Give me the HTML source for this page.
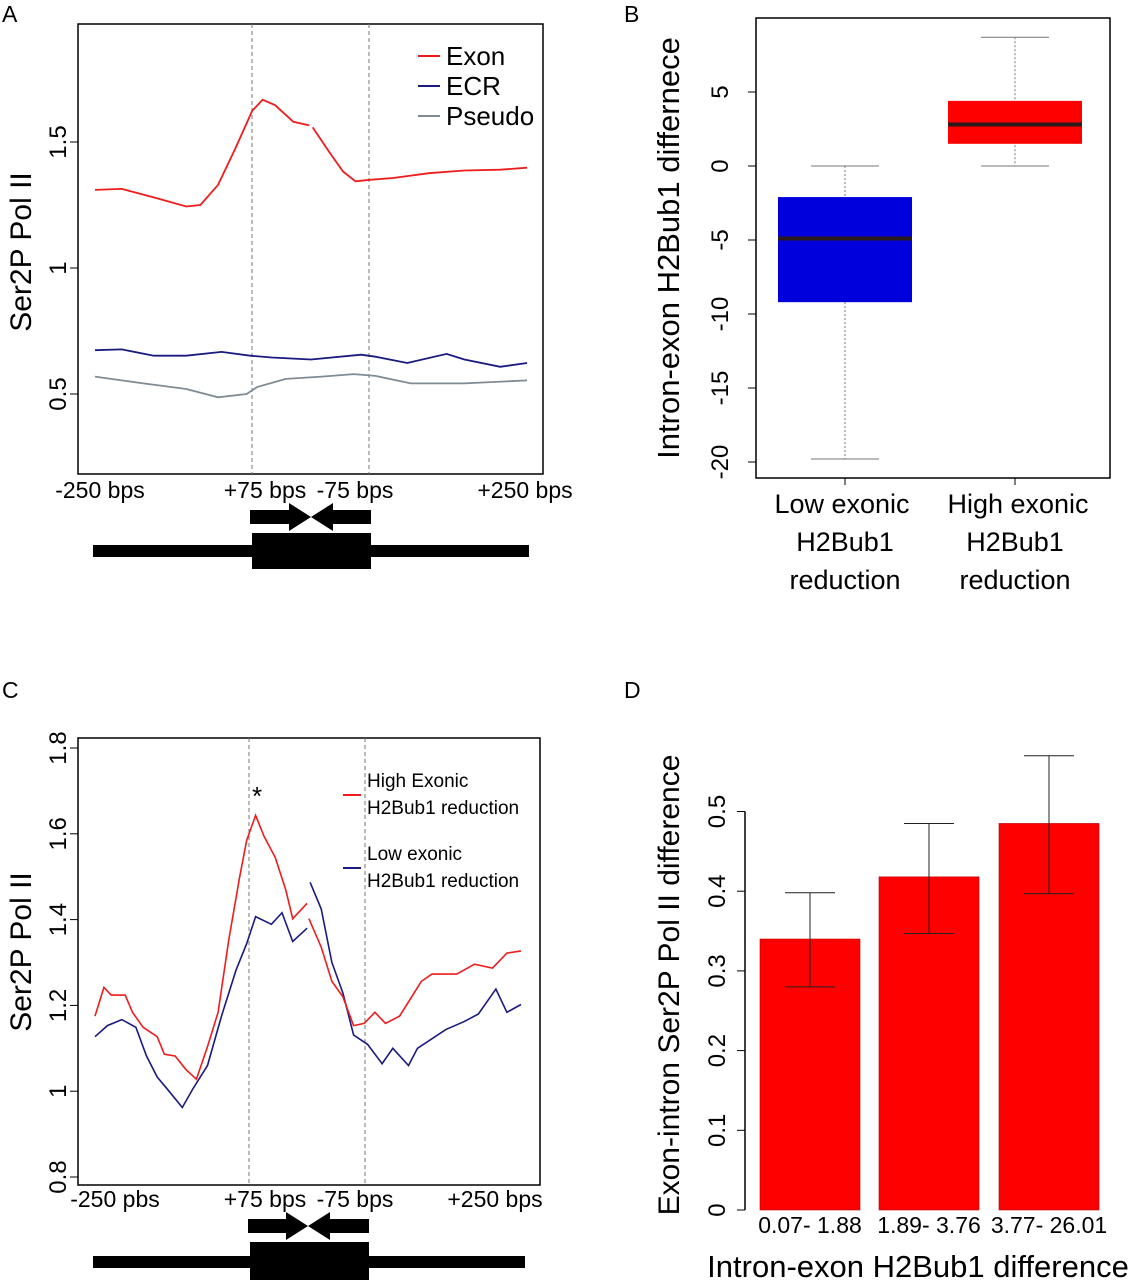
<!DOCTYPE html>
<html><head><meta charset="utf-8"><style>
html,body{margin:0;padding:0;background:#fff;}
svg{display:block;font-family:"Liberation Sans",sans-serif;}
</style></head><body>
<svg id="fig" width="1132" height="1280" viewBox="0 0 1132 1280" xmlns="http://www.w3.org/2000/svg">
<g font-size="23" fill="#000">
<text x="2" y="22">A</text>
<text x="624" y="22">B</text>
<text x="2" y="698">C</text>
<text x="624" y="698">D</text>
</g>
<g id="gA"></g>
<g id="gB"></g>
<g id="gC"></g>
<g id="gD"></g>
</svg>
<script>
// Panel A data (x = position % across window, y = Ser2P Pol II)
const aExonX = [0,6.2,13.6,21.1,24.4,28.5,32.6,36.4,38.8,41.7,45.9,49.6,null,50.4,54.1,57.4,60.3,63.6,69,77.3,85.5,93.8,100];
const aExonY = [1.31,1.314,1.28,1.244,1.25,1.33,1.478,1.624,1.668,1.646,1.58,1.566,null,1.558,1.463,1.383,1.344,1.35,1.357,1.376,1.387,1.39,1.398];
const aEcrX = [0,6.2,13.6,21.1,29.3,35.9,40.9,50,61.6,64.9,72.3,81.4,85.5,93.8,100];
const aEcrY = [0.674,0.677,0.652,0.652,0.667,0.652,0.645,0.637,0.656,0.648,0.623,0.659,0.637,0.608,0.623];
const aPseX = [0,11.2,21.1,28.5,35.1,37.6,44.2,52.5,59.9,64.9,73.1,85.5,100];
const aPseY = [0.569,0.542,0.52,0.487,0.5,0.528,0.56,0.569,0.579,0.572,0.542,0.542,0.554];
const aTicks = [0.5,1,1.5];
const aTickLabels = ["0.5","1","1.5"];
const posLabelsA = ["-250 bps","+75 bps","-75 bps","+250 bps"];
// Panel B box stats
const bCats = ["Low exonic","High exonic"];
const bMin = [-19.8,0];
const bQ1 = [-9.2,1.5];
const bMed = [-4.9,2.8];
const bQ3 = [-2.1,4.4];
const bMax = [0,8.7];
const bTicks = [-20,-15,-10,-5,0,5];
// Panel C data
const cHighX = [0,2.1,3.8,7.1,8.8,11.3,14.6,16.3,18.8,21.3,23.8,26.4,28.9,31.4,33.9,35.6,37.7,39.7,42.3,44.8,46.4,49.8,null,50.2,53.1,55.6,58.2,60.7,63.2,65.7,68.2,71.5,76.6,79.1,84.9,89.1,93.3,96.7,100];
const cHighY = [1.175,1.242,1.224,1.224,1.184,1.149,1.127,1.086,1.082,1.051,1.028,1.104,1.184,1.353,1.496,1.585,1.643,1.594,1.545,1.469,1.402,1.438,null,1.402,1.336,1.256,1.22,1.153,1.158,1.184,1.158,1.175,1.256,1.273,1.273,1.296,1.287,1.322,1.327];
const cLowX = [0,2.9,6.3,9.6,12.1,14.6,17.2,20.5,23,26.4,29.7,33.1,35.6,37.7,41.4,43.9,46.4,49.8,null,50.5,53.1,55.6,58.2,60.7,64,67.4,69.9,73.6,75.7,82.4,86.6,90,94.1,96.7,100];
const cLowY = [1.127,1.153,1.167,1.149,1.082,1.033,1.002,0.962,1.006,1.06,1.175,1.282,1.344,1.407,1.389,1.416,1.349,1.38,null,1.487,1.425,1.3,1.229,1.131,1.109,1.064,1.1,1.06,1.1,1.144,1.162,1.18,1.238,1.184,1.202];
const cTicks = [0.8,1,1.2,1.4,1.6,1.8];
const cTickLabels = ["0.8","1","1.2","1.4","1.6","1.8"];
const posLabelsC = ["-250 pbs","+75 bps","-75 bps","+250 bps"];
// Panel D bars
const dCats = ["0.07- 1.88","1.89- 3.76","3.77- 26.01"];
const dVals = [0.34,0.418,0.485];
const dLo = [0.28,0.347,0.397];
const dHi = [0.398,0.485,0.57];
const dTicks = [0,0.1,0.2,0.3,0.4,0.5];
const dTickLabels = ["0","0.1","0.2","0.3","0.4","0.5"];

const NS="http://www.w3.org/2000/svg";
function mk(parent,tag,attrs){const e=document.createElementNS(NS,tag);for(const k in attrs)e.setAttribute(k,attrs[k]);parent.appendChild(e);return e;}
function txt(parent,x,y,s,size,anchor,rot){const t=mk(parent,'text',{x:x,y:y,'font-size':size,'text-anchor':anchor||'middle'});if(rot)t.setAttribute('transform','rotate(-90 '+x+' '+y+')');t.textContent=s;return t;}
function pathFrom(xs,ys,sx,sy){let d='',pen=false;for(let i=0;i<xs.length;i++){if(xs[i]===null){pen=false;continue;}d+=(pen?'L':'M')+sx(xs[i]).toFixed(1)+' '+sy(ys[i]).toFixed(1);pen=true;}return d;}

function geneDiagram(g,arrowY,x1,x2,mid,blockTop,blockBot,lineX1,lineX2,lineY){
  const ar=mk(g,'path',{d:`M${x1} ${arrowY-7}H${mid-22}V${arrowY-14}L${mid} ${arrowY}L${mid-22} ${arrowY+14}V${arrowY+7}H${x1}Z M${x2} ${arrowY-7}H${mid+22}V${arrowY-14}L${mid} ${arrowY}L${mid+22} ${arrowY+14}V${arrowY+7}H${x2}Z`,fill:'#000'});
  
  const ln=mk(g,'rect',{x:lineX1,y:lineY-6,width:lineX2-lineX1,height:12,fill:'#000'});
  
  const bl=mk(g,'rect',{x:x1+2,y:blockTop,width:x2-x1-2,height:blockBot-blockTop,fill:'#000'});
  
}

// ---- Panel A ----
(function(){
const g=document.getElementById('gA');
const sx=p=>95+p*(527-95)/100, sy=v=>394-(v-0.5)*252;
const box=mk(g,'rect',{x:78,y:24,width:465,height:450,fill:'none',stroke:'#000','stroke-width':1.5});

[252,369].forEach(x=>{const l=mk(g,'line',{x1:x,y1:24,x2:x,y2:474,stroke:'#777','stroke-dasharray':'4 3'});});
aTicks.forEach((v,i)=>{const y=sy(v);const t=mk(g,'line',{x1:70,y1:y,x2:78,y2:y,stroke:'#000'});
 const l=txt(g,66,y,aTickLabels[i],24,'middle',true);});
const yt=txt(g,31,252,'Ser2P Pol II',30,'middle',true);
[[100,0],[265,1],[355,2],[525,3]].forEach(([x,i])=>{const l=txt(g,x,498,posLabelsA[i],23);});
const series=[[aPseX,aPseY,'#7f8c95','pseudo-line'],[aEcrX,aEcrY,'#1a1a80','ecr-line'],[aExonX,aExonY,'#ee1c1c','exon-line']];
series.forEach(s=>{const p=mk(g,'path',{d:pathFrom(s[0],s[1],sx,sy),fill:'none',stroke:s[2],'stroke-width':1.8});});
[['Exon','#ee1c1c',56],['ECR','#1a1a80',86],['Pseudo','#7f8c95',116]].forEach(e=>{
 const lg=mk(g,'g',{});
 mk(lg,'line',{x1:418,y1:e[2],x2:440,y2:e[2],stroke:e[1],'stroke-width':2});txt(lg,446,e[2]+9,e[0],26,'start');});
geneDiagram(g,517,250,371,311,533,569,93,529,551);
})();

// ---- Panel B ----
(function(){
const g=document.getElementById('gB');
const sy=v=>166-v*14.8;const cx=[845,1015];const hw=67;
const box=mk(g,'rect',{x:756,y:18,width:354,height:460,fill:'none',stroke:'#000','stroke-width':1.5});

bTicks.forEach(v=>{const y=sy(v);const t=mk(g,'line',{x1:748,y1:y,x2:756,y2:y,stroke:'#000'});
 const l=txt(g,728,y,String(v),24,'middle',true);});
const yt=txt(g,679,248,'Intron-exon H2Bub1 differnece',31,'middle',true);
const cols=['#0000dd','#ff0000'];
bCats.forEach((c,i)=>{
 const bg=mk(g,'g',{});
 mk(bg,'line',{x1:cx[i],y1:sy(bMax[i]),x2:cx[i],y2:sy(bMin[i]),stroke:'#777','stroke-dasharray':'2 2'});
 mk(bg,'line',{x1:cx[i]-34,y1:sy(bMax[i]),x2:cx[i]+34,y2:sy(bMax[i]),stroke:'#777'});
 mk(bg,'line',{x1:cx[i]-34,y1:sy(bMin[i]),x2:cx[i]+34,y2:sy(bMin[i]),stroke:'#777'});
 mk(bg,'rect',{x:cx[i]-hw,y:sy(bQ3[i]),width:2*hw,height:sy(bQ1[i])-sy(bQ3[i]),fill:cols[i]});
 mk(bg,'line',{x1:cx[i]-hw,y1:sy(bMed[i]),x2:cx[i]+hw,y2:sy(bMed[i]),stroke:'#2a1a1a','stroke-width':4});
 const t=mk(g,'line',{x1:cx[i],y1:478,x2:cx[i],y2:485,stroke:'#000'});
 const lg=mk(g,'g',{});
 txt(lg,cx[i]+(i?3:-3),513,c,27);txt(lg,cx[i],551,'H2Bub1',27);txt(lg,cx[i],589,'reduction',27);
});
})();

// ---- Panel C ----
(function(){
const g=document.getElementById('gC');
const sx=p=>95+p*(521-95)/100, sy=v=>1177-(v-0.8)*429;
const box=mk(g,'rect',{x:78,y:738,width:462,height:447,fill:'none',stroke:'#000','stroke-width':1.5});

[249,365].forEach(x=>{const l=mk(g,'line',{x1:x,y1:738,x2:x,y2:1185,stroke:'#777','stroke-dasharray':'4 3'});});
cTicks.forEach((v,i)=>{const y=sy(v);const t=mk(g,'line',{x1:70,y1:y,x2:78,y2:y,stroke:'#000'});
 const l=txt(g,66,y,cTickLabels[i],24,'middle',true);});
const yt=txt(g,31,952,'Ser2P Pol II',30,'middle',true);
[[115,0],[265,1],[355,2],[495,3]].forEach(([x,i])=>{const l=txt(g,x,1207,posLabelsC[i],23);});
const pl=mk(g,'path',{d:pathFrom(cLowX,cLowY,sx,sy),fill:'none',stroke:'#1a1a80','stroke-width':1.6});

const ph=mk(g,'path',{d:pathFrom(cHighX,cHighY,sx,sy),fill:'none',stroke:'#ee1c1c','stroke-width':1.6});

const ast=txt(g,257,805,'*',26);
[['High Exonic','#ee1c1c',795],['Low exonic','#1a1a80',868]].forEach(e=>{
 const lg=mk(g,'g',{});
 mk(lg,'line',{x1:343,y1:e[2],x2:361,y2:e[2],stroke:e[1],'stroke-width':2});
 txt(lg,367,e[2]-8,e[0],19,'start');txt(lg,367,e[2]+19,'H2Bub1 reduction',19,'start');});
geneDiagram(g,1226,248,369,308,1242,1282,93,525,1262);
})();

// ---- Panel D ----
(function(){
const g=document.getElementById('gD');
const sy=v=>1210-v*797;const bx=[760,879,999];const bw=100;
const ax=mk(g,'line',{x1:745,y1:sy(0),x2:745,y2:sy(0.5),stroke:'#000','stroke-width':1.5});

dTicks.forEach((v,i)=>{const y=sy(v);const t=mk(g,'line',{x1:737,y1:y,x2:745,y2:y,stroke:'#000'});
 const l=txt(g,725,y,dTickLabels[i],24,'middle',true);});
const yt=txt(g,679,985,'Exon-intron Ser2P Pol II difference',30,'middle',true);
dCats.forEach((c,i)=>{
 const b=mk(g,'rect',{x:bx[i],y:sy(dVals[i]),width:bw,height:sy(0)-sy(dVals[i]),fill:'#ff0000',stroke:'#b00','stroke-width':0.6});
 
 const m=bx[i]+bw/2;const eg=mk(g,'g',{stroke:'#222','stroke-width':1});
 mk(eg,'line',{x1:m,y1:sy(dLo[i]),x2:m,y2:sy(dHi[i])});
 mk(eg,'line',{x1:m-25,y1:sy(dLo[i]),x2:m+25,y2:sy(dLo[i])});
 mk(eg,'line',{x1:m-25,y1:sy(dHi[i]),x2:m+25,y2:sy(dHi[i])});
 const l=txt(g,m,1233,c,23);
});
const xt=txt(g,918,1277,'Intron-exon H2Bub1 difference',31);
})();
</script>
</body></html>
